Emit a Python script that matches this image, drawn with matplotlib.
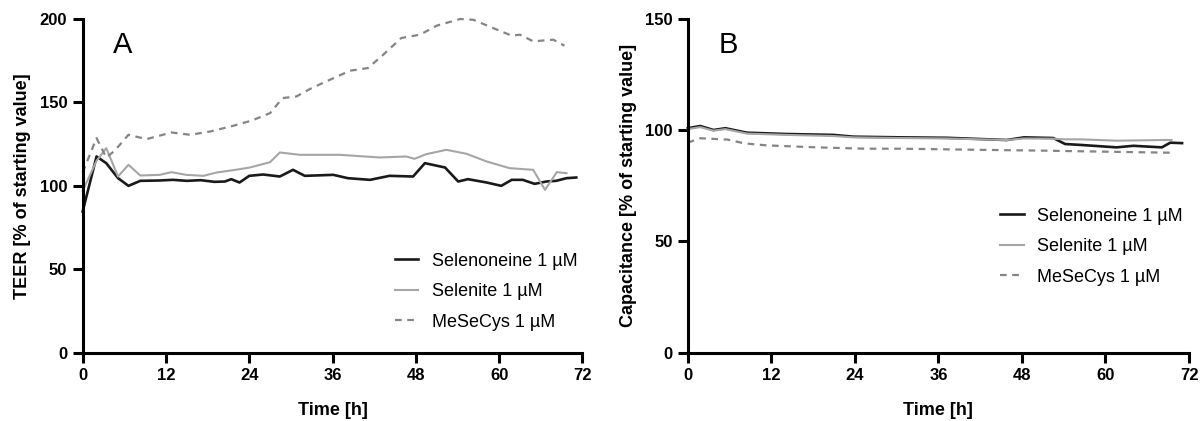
import matplotlib.pyplot as plt

plt.rcParams['font.family'] = ['Liberation Sans', 'DejaVu Sans']

# TEER (panel A), time in h and % of starting value
teer_sel_t = [0, 2.0, 3.4, 5.1, 6.6, 8.3, 11, 13, 15, 17, 19, 20.5, 21.4, 22.6, 24, 26, 28.4,
              30.3, 32.0, 36.1, 38.2, 41.4, 44.2, 47.6, 49.3, 52.2, 54.1, 55.5, 58.2, 60.3,
              61.8, 63.4, 65.1, 66.8, 68.2, 69.7, 71.1]
teer_sel_v = [84.6, 117.6, 113.6, 104.6, 100, 103, 103.2, 103.6, 103, 103.4, 102.4, 102.6, 104,
              102, 106, 106.8, 105.6, 109.6, 106, 106.6, 104.6, 103.6, 106, 105.6, 113.6, 111,
              102.6, 104, 102, 100, 103.6, 103.6, 101.2, 102.6, 103, 104.6, 105]

teer_ite_t = [0, 2.0, 3.4, 5.1, 6.6, 8.3, 11.1, 12.8, 14.9, 17.4, 19.3, 21.7, 24.1, 27, 28.4,
              31.3, 37, 42.8, 46.6, 47.8, 49.5, 52.4, 55.3, 58.2, 61.5, 64.9, 66.6, 68.3, 69.7]
teer_ite_v = [97, 115, 122.6, 105.6, 112.6, 106.2, 106.6, 108.2, 106.6, 106, 108, 109.4, 111,
              114.2, 120, 118.6, 118.6, 117, 117.6, 116.2, 119, 121.6, 119.2, 114.6, 110.6,
              109.6, 97.6, 108.2, 107.6]

teer_cys_t = [0, 2.0, 3.4, 4.6, 6.6, 9.2, 12.8, 15.5, 18.4, 21.7, 24.4, 27, 28.8, 30.8, 33,
              35.1, 38.5, 41.1, 43.3, 45.9, 48.6, 51.0, 54.4, 56.3, 59.1, 61.8, 63, 64.9, 67.8,
              69.4]
teer_cys_v = [108, 128.6, 117, 121, 130.6, 128, 132, 130.6, 132.6, 136, 139.2, 143.6, 152.6,
              153.6, 158.6, 162.6, 169, 170.6, 178.6, 188.6, 190.6, 196, 200, 199.5, 194.6,
              190, 190.6, 186.6, 187.6, 184]

# Capacitance (panel B)
cap_sel_t = [0, 1.8, 3.7, 5.4, 8.5, 14.2, 20.9, 23.8, 30.5, 37.2, 45.8, 48.3, 52.5, 54.2,
             56.4, 61.6, 64.0, 68.1, 69.3, 71]
cap_sel_v = [100.9, 101.9, 100.1, 100.9, 98.9, 98.3, 97.9, 97.1, 96.8, 96.6, 95.6, 96.8, 96.5,
             93.8, 93.4, 92.3, 93.0, 92.3, 94.4, 94.2]

cap_ite_t = [0, 1.8, 3.7, 5.4, 8.5, 14.2, 20.9, 23.8, 30.5, 37.2, 45.8, 48.3, 52.5, 54.2,
             56.4, 61.6, 64.0, 68.1, 69.5]
cap_ite_v = [100.5, 101.4, 99.8, 100.5, 98.5, 97.9, 97.4, 96.8, 96.5, 96.3, 95.6, 96.3, 96.2,
             95.9, 95.9, 95.3, 95.4, 95.6, 95.6]

cap_cys_t = [0, 1.8, 5.7, 8.1, 11.3, 18.5, 25.6, 30.5, 41.9, 51.5, 61.1, 69.3]
cap_cys_v = [94.4, 96.4, 95.8, 94.1, 93.2, 92.3, 91.7, 91.7, 91.2, 90.8, 90.3, 89.9]

labels = ['Selenoneine 1 µM', 'Selenite 1 µM', 'MeSeCys 1 µM']
x_ticks = [0, 12, 24, 36, 48, 60, 72]

fig = plt.figure(figsize=(12.03, 4.21), dpi=100)
axA = fig.add_axes([0.0687, 0.1622, 0.4155, 0.7927])
axB = fig.add_axes([0.5717, 0.1622, 0.4167, 0.7927])


def style_axis(ax, ymax, yticks, ylabel, letter):
    ax.set_xlim(0, 72)
    ax.set_ylim(0, ymax)
    ax.set_xticks(x_ticks)
    ax.set_yticks(yticks)
    for s in ['top', 'right']:
        ax.spines[s].set_visible(False)
    for s in ['left', 'bottom']:
        ax.spines[s].set_linewidth(2.2)
    ax.tick_params(width=2.2, length=7, direction='out', labelsize=12, pad=4)
    for lab in ax.get_xticklabels() + ax.get_yticklabels():
        lab.set_fontweight('bold')
    ax.set_xlabel('Time [h]', fontsize=13, fontweight='bold', labelpad=14)
    ax.set_ylabel(ylabel, fontsize=13, fontweight='bold', labelpad=6)
    ax.text(0.061, 0.898, letter, transform=ax.transAxes, fontsize=21, va='baseline')


def draw(ax, sel, ite, cys, anchor):
    ax.plot(sel[0], sel[1], color='#1a1a1a', lw=1.9, label=labels[0], clip_on=False)
    ax.plot(ite[0], ite[1], color='#a6a6a6', lw=1.5, label=labels[1], clip_on=False)
    ax.plot(cys[0], cys[1], color='#858585', lw=1.6, ls=(0, (3, 2.5)), label=labels[2],
            clip_on=False)
    ax.legend(loc='upper left', bbox_to_anchor=anchor, bbox_transform=fig.transFigure,
              frameon=False, fontsize=13, handlelength=1.3, handletextpad=0.75,
              labelspacing=0.75, borderpad=0, borderaxespad=0)


draw(axA, (teer_sel_t, teer_sel_v), (teer_ite_t, teer_ite_v), (teer_cys_t, teer_cys_v),
     (0.3283, 0.40))
draw(axB, (cap_sel_t, cap_sel_v), (cap_ite_t, cap_ite_v), (cap_cys_t, cap_cys_v),
     (0.8313, 0.507))

style_axis(axA, 200, [0, 50, 100, 150, 200], 'TEER [% of starting value]', 'A')
style_axis(axB, 150, [0, 50, 100, 150], 'Capacitance [% of starting value]', 'B')

fig.savefig('out.png', dpi=100)
